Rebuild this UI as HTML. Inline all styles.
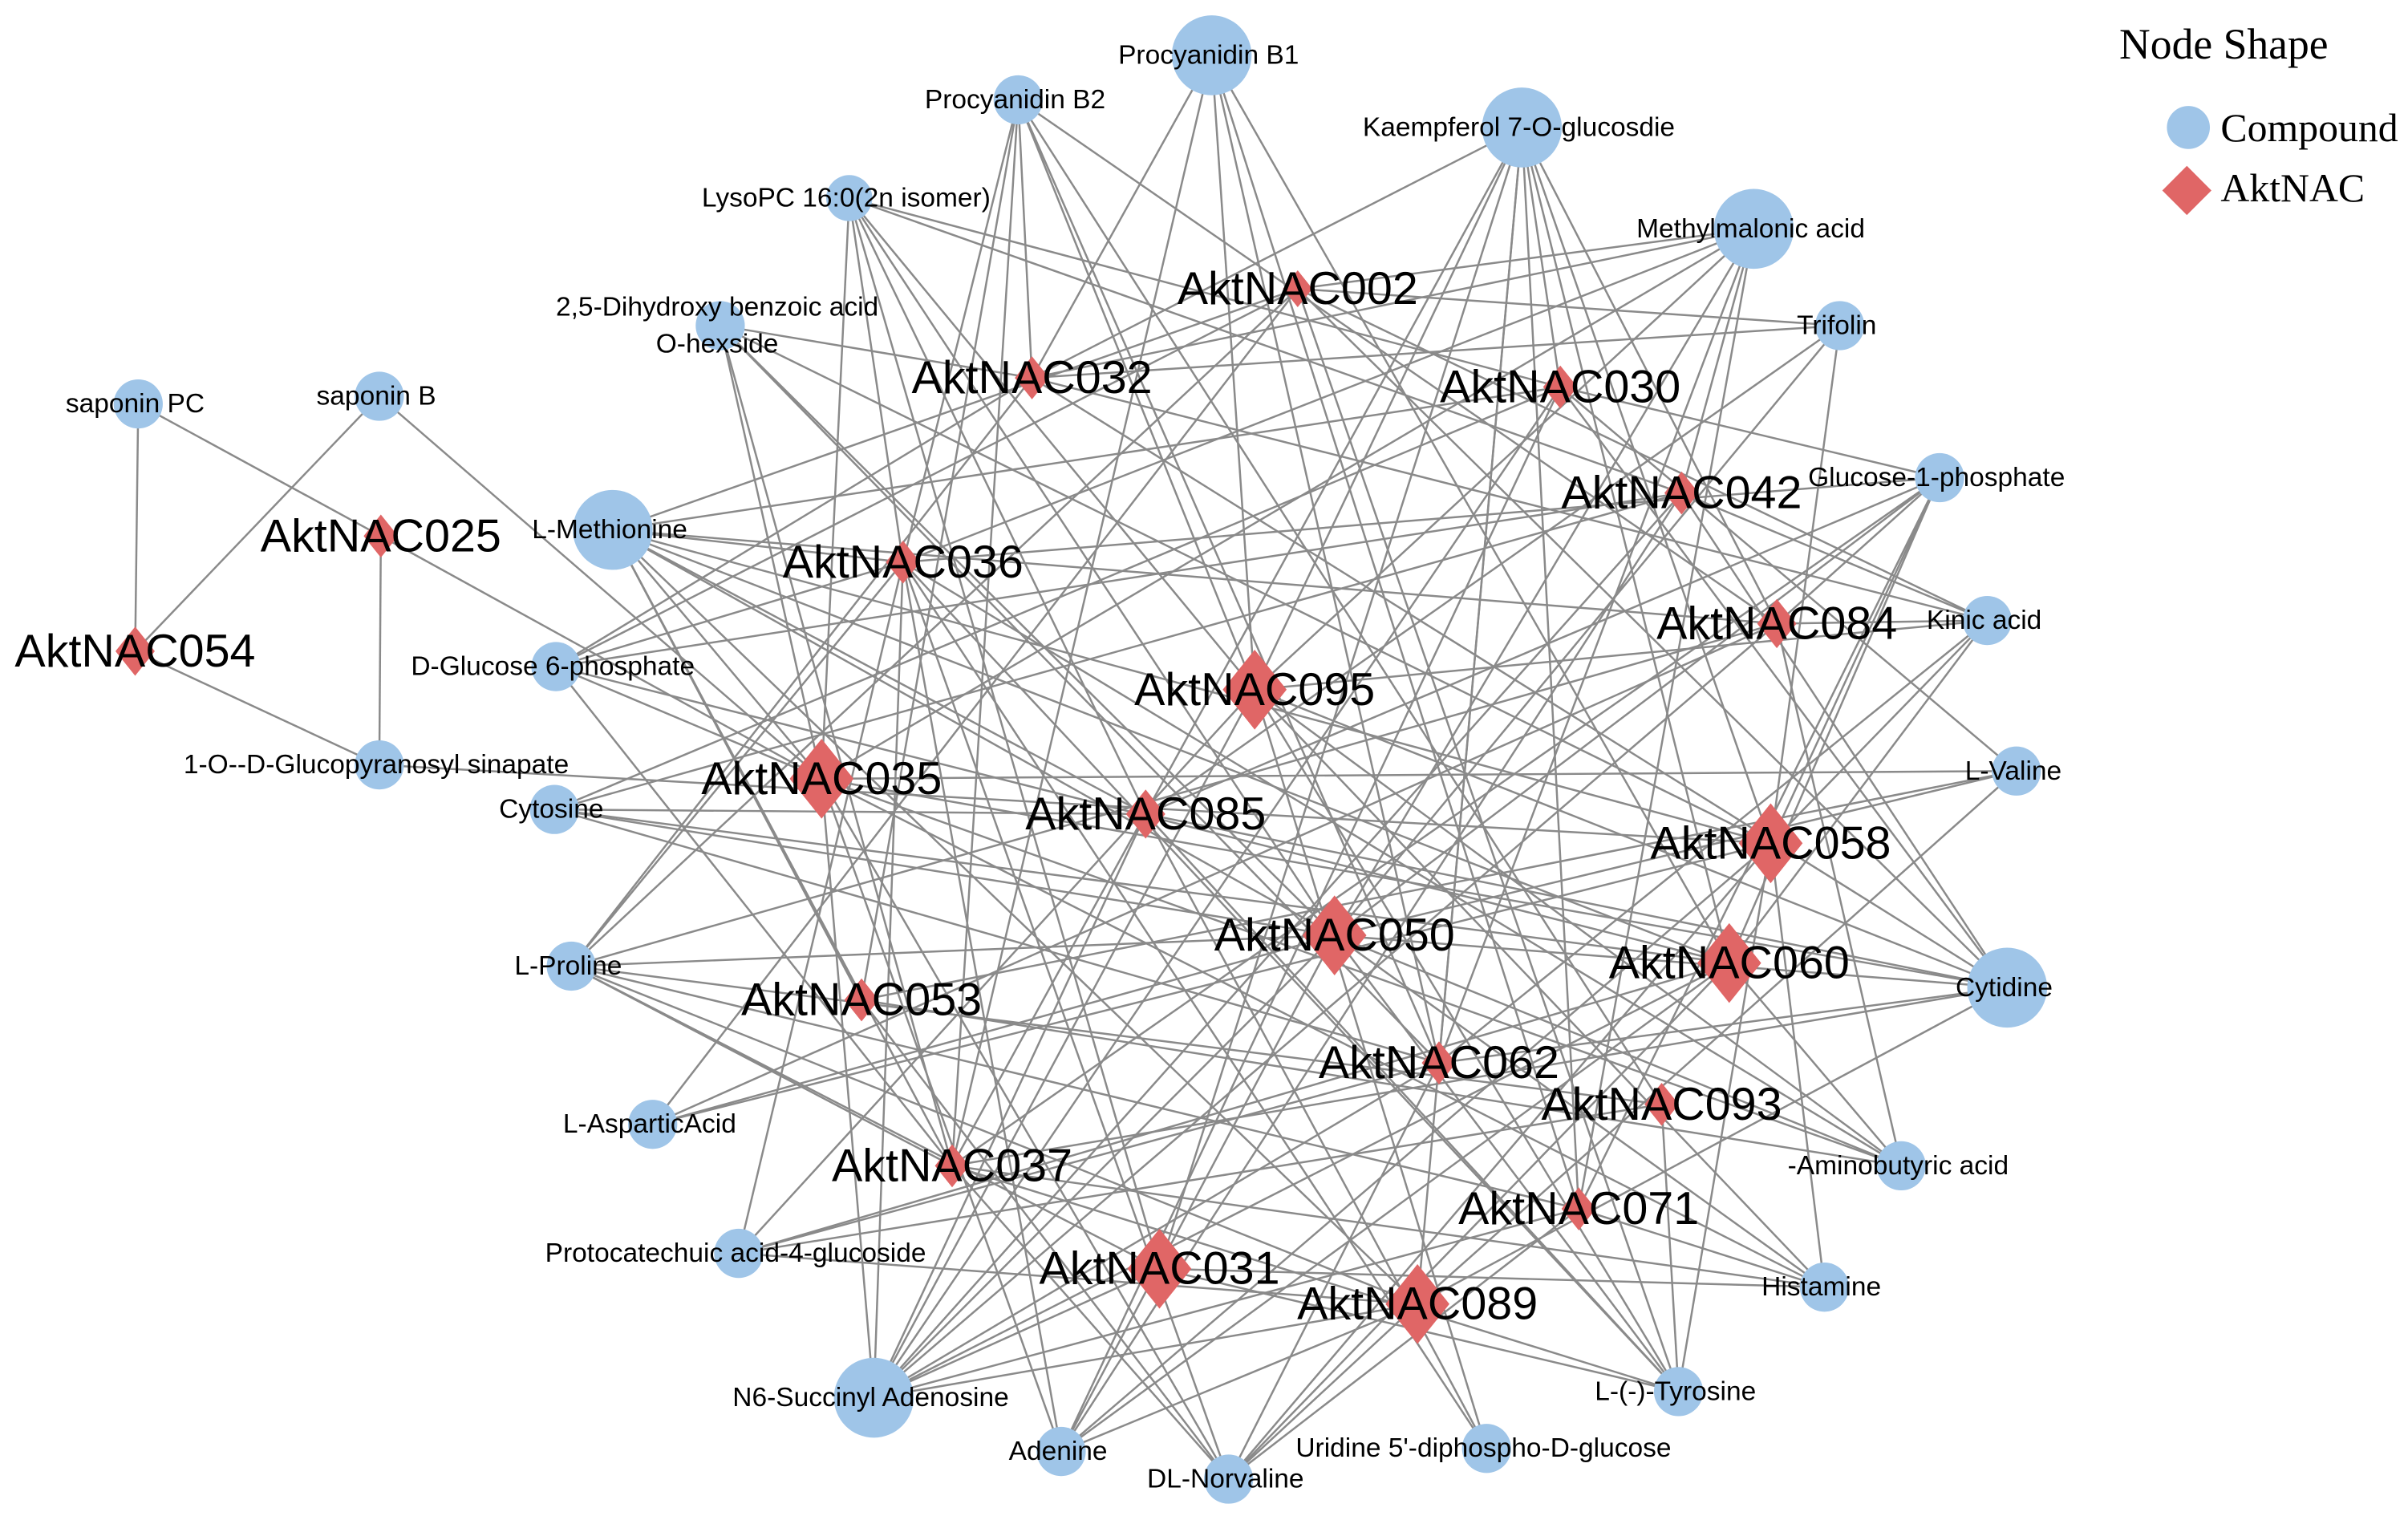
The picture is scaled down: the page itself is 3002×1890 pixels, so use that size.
<!DOCTYPE html>
<html><head><meta charset="utf-8"><style>
html,body{margin:0;padding:0;background:#fff;}
svg{display:block;}
text{font-family:"Liberation Sans",Arial,sans-serif;fill:#000;}
.c{font-size:17.5px;text-anchor:middle;dominant-baseline:central;}
.n{font-size:30px;text-anchor:middle;dominant-baseline:central;}
.lg{font-family:"Liberation Serif",serif;font-size:26px;}
</style></head><body>
<svg id="s" width="3002" height="1890" viewBox="0 0 1568 987" preserveAspectRatio="none" xmlns="http://www.w3.org/2000/svg">
<g id="edges" stroke="#8a8a8a" stroke-width="1.3"></g>
<g id="nodes"></g>
<g id="labels"></g>
<text class="lg" x="1380" y="38" style="font-size:28px">Node Shape</text>
<circle cx="1425" cy="83" r="14" fill="#9fc5e8"/>
<text class="lg" x="1446" y="92">Compound</text>
<polygon points="1424,108 1440,124 1424,140 1408,124" fill="#e06666"/>
<text class="lg" x="1446" y="131">AktNAC</text>
</svg>
<script>
var C={
'Procyanidin B1':[789,36,26],'Procyanidin B2':[663,65,16],'Kaempferol 7-O-glucosdie':[991,83,26],
'LysoPC 16:0(2n isomer)':[553,129,15],'Methylmalonic acid':[1142,149,26],'2,5-Dihydroxy benzoic acid':[469,212,16],
'Trifolin':[1198,212,16],'saponin PC':[90,263,16],'saponin B':[247,258,16],'L-Methionine':[399,345,26],
'Glucose-1-phosphate':[1263,311,16],'Kinic acid':[1294,404,16],'D-Glucose 6-phosphate':[362,434,16],
'1-O--D-Glucopyranosyl sinapate':[247,498,16],'Cytosine':[361,527,16],'L-Valine':[1313,502,16],
'L-Proline':[372,629,16],'Cytidine':[1307,643,26],'L-AsparticAcid':[425,732,16],'-Aminobutyric acid':[1238,759,16],
'Protocatechuic acid-4-glucoside':[481,816,16],'Histamine':[1188,838,16],'N6-Succinyl Adenosine':[569,910,26],
'L-(-)-Tyrosine':[1093,906,16],'Adenine':[691,945,16],"Uridine 5'-diphospho-D-glucose":[968,943,16],'DL-Norvaline':[800,963,16]};
var N={'002':[845,188,12],'032':[672,246,14],'030':[1016,252,14],'042':[1095,321,14],'025':[248,349,14],'036':[588,366,14],
'084':[1157,406,16],'054':[88,424,16],'095':[817,449,26],'035':[535,507,26],'085':[746,530,16],'058':[1153,549,26],
'050':[869,609,26],'060':[1126,627,26],'053':[561,651,14],'062':[937,692,14],'093':[1082,719,14],'037':[620,759,14],
'071':[1028,787,14],'031':[755,826,26],'089':[923,849,26]};
var ns='http://www.w3.org/2000/svg';
var E=document.getElementById('edges'),G=document.getElementById('nodes'),L=document.getElementById('labels');
function line(a,b){var l=document.createElementNS(ns,'line');l.setAttribute('x1',a[0]);l.setAttribute('y1',a[1]);l.setAttribute('x2',b[0]);l.setAttribute('y2',b[1]);E.appendChild(l);}
var seed=12345;function rnd(){seed=(seed*1103515245+12345)%2147483648;return seed/2147483648;}
var left=['saponin PC','saponin B','1-O--D-Glucopyranosyl sinapate'];
line(C['saponin PC'],N['054']);line(C['saponin PC'],N['025']);line(C['saponin B'],N['054']);
line(C['saponin B'],N['035']);line(N['025'],C['1-O--D-Glucopyranosyl sinapate']);line(N['054'],C['1-O--D-Glucopyranosyl sinapate']);
line(N['025'],N['035']);line(C['1-O--D-Glucopyranosyl sinapate'],N['058']);
for(var k in C){if(left.indexOf(k)>=0)continue;for(var m in N){if(m=='025'||m=='054')continue;
var p=(C[k][2]>20?0.55:0.38);if(rnd()<p)line(C[k],N[m]);}}
for(var k in C){var c=C[k];var e=document.createElementNS(ns,'circle');e.setAttribute('cx',c[0]);e.setAttribute('cy',c[1]);e.setAttribute('r',c[2]);e.setAttribute('fill','#9fc5e8');G.appendChild(e);
var lines=k=='2,5-Dihydroxy benzoic acid'?['2,5-Dihydroxy benzoic acid','O-hexside']:[k];
lines.forEach(function(t,i){var x=document.createElementNS(ns,'text');x.setAttribute('class','c');x.setAttribute('x',c[0]-2);x.setAttribute('y',c[1]+(lines.length>1?(i?12:-12):0));x.textContent=t;L.appendChild(x);});}
for(var m in N){var d=N[m],s=d[2];var p=document.createElementNS(ns,'polygon');
p.setAttribute('points',(d[0])+','+(d[1]-s)+' '+(d[0]+s*0.8)+','+d[1]+' '+d[0]+','+(d[1]+s)+' '+(d[0]-s*0.8)+','+d[1]);
p.setAttribute('fill','#e06666');G.appendChild(p);
var x=document.createElementNS(ns,'text');x.setAttribute('class','n');x.setAttribute('x',d[0]);x.setAttribute('y',d[1]);x.textContent='AktNAC'+m;L.appendChild(x);}
</script>
</body></html>
